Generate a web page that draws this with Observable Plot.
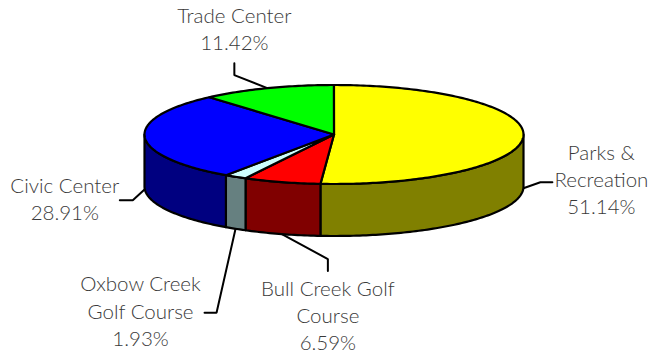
<!DOCTYPE html>
<html>
<head>
<meta charset="utf-8">
<script src="https://cdn.jsdelivr.net/npm/d3@7"></script>
<script src="https://cdn.jsdelivr.net/npm/@observablehq/plot@0.6"></script>
<style>html,body{margin:0;padding:0;background:#fff}svg{display:block}</style>
</head>
<body>
<div id="chart"></div>
<script>
const categories = ["Parks &\nRecreation", "Bull Creek Golf\nCourse", "Oxbow Creek\nGolf Course", "Civic Center", "Trade Center"];
const shares = [51.14, 6.59, 1.93, 28.91, 11.42];
const topColors = ["#ffff00", "#ff0000", "#ccffff", "#0000ff", "#00ff00"];
const sideColors = ["#808000", "#800000", "#668080", "#000080", "#008000"];

// Pie layout
const W = 663, H = 356;
const cx = 333.5, cy = 134, rx = 189.5, ry = 49.5, depth = 52;
const rad = d => d * Math.PI / 180;
const pt = (deg, drop = 0) => ({x: cx + rx * Math.sin(rad(deg)), y: cy - ry * Math.cos(rad(deg)) + drop});
const arc = (a0, a1, drop = 0) => {
  const n = Math.max(2, Math.ceil(Math.abs(a1 - a0)));
  return d3.range(n + 1).map(i => pt(a0 + (a1 - a0) * i / n, drop));
};

// Leader offsets (elbow, end) from each slice's edge, and label centres from the leader end
const leaderLayout = [
  {side: true, elbow: [17, -6], end: [29, -6], label: [49, -4]},
  {side: true, elbow: [46, 25], end: [46, 37], label: [0, 43]},
  {side: true, elbow: [-19, 84], end: [-31, 84], label: [-64, -3]},
  {side: true, elbow: [-12, 11], end: [-25, 11], label: [-55, -2.5]},
  {side: false, elbow: [-33, -13], end: [-33, -25], label: [0, -35.5]}
];

let cum = 0;
const slices = shares.map((v, i) => {
  const a0 = cum * 3.6; cum += v; const a1 = cum * 3.6;
  const mid = (a0 + a1) / 2;
  const L = leaderLayout[i];
  const s = pt(mid, L.side ? depth : 0);
  const elbow = {x: s.x + L.elbow[0], y: s.y + L.elbow[1]};
  const end = {x: s.x + L.end[0], y: s.y + L.end[1]};
  return {
    a0, a1, top: topColors[i], side: sideColors[i],
    leader: [s, elbow, end],
    label: {x: end.x + L.label[0], y: end.y + L.label[1], text: `${categories[i]}\n${v.toFixed(2)}%`}
  };
});

const outline = {stroke: "#000", strokeWidth: 2.2, strokeLinejoin: "round", x: "x", y: "y"};
const marks = [];

// Leaders sit behind the pie
for (const s of slices) marks.push(Plot.line(s.leader, {x: "x", y: "y", stroke: "#000", strokeWidth: 2, strokeLinejoin: "miter"}));

// Visible wall of each slice: the part of its arc on the front half
for (const s of slices) {
  const lo = Math.max(s.a0, 90), hi = Math.min(s.a1, 270);
  if (hi <= lo) continue;
  const poly = [...arc(lo, hi), ...arc(hi, lo, depth)];
  poly.push(poly[0]);
  marks.push(Plot.line(poly, {...outline, fill: s.side}));
}
// Top face
for (const s of slices) {
  const poly = [{x: cx, y: cy}, ...arc(s.a0, s.a1), {x: cx, y: cy}];
  marks.push(Plot.line(poly, {...outline, fill: s.top}));
}
// Labels
marks.push(Plot.text(slices.map(s => s.label), {
  x: "x", y: "y", text: "text", fill: "#3a3a3a", fontSize: 20.5, lineHeight: 1.33,
  fontFamily: "Lato", fontWeight: 300, textAnchor: "middle", lineAnchor: "middle"
}));

const chart = Plot.plot({
  width: W, height: H, margin: 0,
  x: {domain: [0, W], range: [0, W], axis: null},
  y: {domain: [0, H], range: [0, H], axis: null},
  marks
});
document.getElementById("chart").append(chart);
</script>
</body>
</html>
